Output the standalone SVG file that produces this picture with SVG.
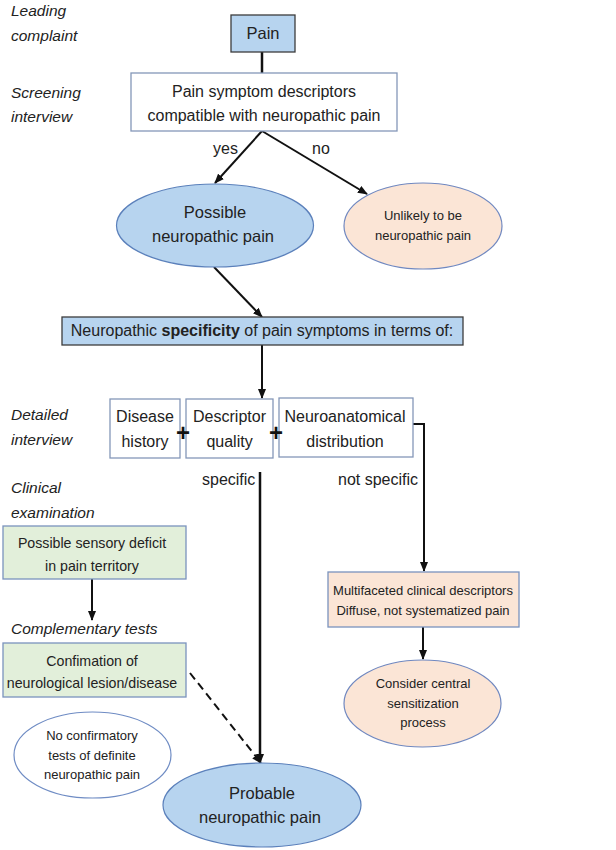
<svg xmlns="http://www.w3.org/2000/svg" width="616" height="850" viewBox="0 0 616 850">
<defs>
<marker id="arr" markerWidth="10" markerHeight="8" refX="9" refY="4" orient="auto" markerUnits="userSpaceOnUse">
<path d="M0,0 L10,4 L0,8 Z" fill="#111"/>
</marker>
<style>
text{font-family:"Liberation Sans",Arial,sans-serif;fill:#222;}
.lab{font-style:italic;font-size:15.5px;}
.c{text-anchor:middle;}
.f16{font-size:16px;}
.f165{font-size:16.5px;}
.f14{font-size:14.2px;}
.f13{font-size:13px;}
.blue{fill:#b7d4ef;stroke:#3c3c3c;stroke-width:1.3;}
.wbox{fill:#fff;stroke:#8497b8;stroke-width:1.3;}
.bell{fill:#b7d4ef;stroke:#5b80bb;stroke-width:1.2;}
.pell{fill:#fbe5d6;stroke:#7088c0;stroke-width:1.2;}
.green{fill:#e2efda;stroke:#7a93bd;stroke-width:1.3;}
.peach{fill:#fbe5d6;stroke:#7a93bd;stroke-width:1.3;}
.well{fill:#fff;stroke:#6f8cc4;stroke-width:1.2;}
.con{fill:none;stroke:#111;stroke-width:2;}
.plus{font-weight:bold;font-size:24px;fill:#111;}
</style>
</defs>

<g id="labels">
<text class="lab" x="11" y="16">Leading</text>
<text class="lab" x="11" y="41">complaint</text>
<text class="lab" x="11" y="98">Screening</text>
<text class="lab" x="11" y="122">interview</text>
<text class="lab" x="11" y="420">Detailed</text>
<text class="lab" x="11" y="445">interview</text>
<text class="lab" x="11" y="493">Clinical</text>
<text class="lab" x="11" y="518">examination</text>
<text class="lab" x="11" y="634">Complementary tests</text>
</g>

<g id="connectors">
<line class="con" x1="262" y1="52" x2="262" y2="73" style="stroke-width:2.5"/>
<line class="con" x1="262" y1="131" x2="215" y2="183" marker-end="url(#arr)"/>
<line class="con" x1="262" y1="131" x2="367" y2="194" marker-end="url(#arr)"/>
<line class="con" x1="214" y1="267" x2="262" y2="317" marker-end="url(#arr)"/>
<line class="con" x1="262" y1="345" x2="262" y2="398" marker-end="url(#arr)"/>
<polyline class="con" points="413,424 424,424 424,571" marker-end="url(#arr)"/>
<line class="con" x1="260" y1="472" x2="260" y2="763" style="stroke-width:2.5" marker-end="url(#arr)"/>
<line class="con" x1="92" y1="579" x2="92" y2="620" marker-end="url(#arr)"/>
<line class="con" x1="423" y1="627" x2="423" y2="659" marker-end="url(#arr)"/>
<line class="con" x1="190" y1="673" x2="261" y2="763" stroke-dasharray="8,5" marker-end="url(#arr)"/>
<text class="f16" x="213" y="154">yes</text>
<text class="f16" x="312" y="154">no</text>
<text class="f16" x="202" y="485">specific</text>
<text class="f16" x="338" y="485">not specific</text>
</g>

<g id="pain">
<rect class="blue" x="231" y="15" width="64" height="37"/>
<text class="f165 c" x="263" y="39">Pain</text>
</g>

<g id="screening">
<rect class="wbox" x="131" y="73" width="266" height="58"/>
<text class="f16 c" x="264" y="97">Pain symptom descriptors</text>
<text class="f16 c" x="264" y="121">compatible with neuropathic pain</text>
</g>

<g id="possible">
<ellipse class="bell" cx="215" cy="225.5" rx="98.5" ry="41.5"/>
<text class="f165 c" x="215" y="218">Possible</text>
<text class="f165 c" x="213" y="242">neuropathic pain</text>
</g>

<g id="unlikely">
<ellipse class="pell" cx="423" cy="226" rx="79" ry="43"/>
<text class="f13 c" x="423" y="220">Unlikely to be</text>
<text class="f13 c" x="423" y="240">neuropathic pain</text>
</g>

<g id="specificity">
<rect class="blue" x="62" y="317" width="401" height="28"/>
<text class="f16 c" x="262" y="336">Neuropathic <tspan font-weight="bold">specificity</tspan> of pain symptoms in terms of:</text>
</g>

<g id="disease">
<rect class="wbox" x="110" y="399" width="70" height="59"/>
<text class="f16 c" x="145" y="422">Disease</text>
<text class="f16 c" x="145" y="447">history</text>
</g>

<g id="descriptor">
<rect class="wbox" x="186" y="399" width="87" height="59"/>
<text class="f16 c" x="229.5" y="422">Descriptor</text>
<text class="f16 c" x="229.5" y="447">quality</text>
</g>

<g id="neuroanatomical">
<rect class="wbox" x="279" y="398" width="134" height="59"/>
<text class="f16 c" x="345" y="422">Neuroanatomical</text>
<text class="f16 c" x="345" y="447">distribution</text>
</g>

<g id="plus-signs">
<text class="plus c" x="183" y="441">+</text>
<text class="plus c" x="276" y="441">+</text>
</g>

<g id="sensory">
<rect class="green" x="3" y="526" width="183" height="53"/>
<text class="f14 c" x="92" y="548">Possible sensory deficit</text>
<text class="f14 c" x="92" y="571">in pain territory</text>
</g>

<g id="confirmation">
<rect class="green" x="3" y="643" width="183" height="54"/>
<text class="f14 c" x="92" y="666">Confimation of</text>
<text class="f14 c" x="92" y="688">neurological lesion/disease</text>
</g>

<g id="noconfirm">
<ellipse class="well" cx="92.5" cy="755" rx="78.5" ry="43"/>
<text class="f13 c" x="92" y="740">No confirmatory</text>
<text class="f13 c" x="92" y="760">tests of definite</text>
<text class="f13 c" x="92" y="779">neuropathic pain</text>
</g>

<g id="probable">
<ellipse class="bell" cx="262" cy="805" rx="99" ry="42"/>
<text class="f165 c" x="262" y="799">Probable</text>
<text class="f165 c" x="260" y="823">neuropathic pain</text>
</g>

<g id="multifaceted">
<rect class="peach" x="328" y="572" width="191" height="55"/>
<text class="f13 c" x="423" y="595">Multifaceted clinical descriptors</text>
<text class="f13 c" x="423" y="615">Diffuse, not systematized pain</text>
</g>

<g id="central">
<ellipse class="pell" cx="422.5" cy="703.5" rx="78.5" ry="43.5"/>
<text class="f13 c" x="423" y="688">Consider central</text>
<text class="f13 c" x="423" y="708">sensitization</text>
<text class="f13 c" x="423" y="727">process</text>
</g>
</svg>
